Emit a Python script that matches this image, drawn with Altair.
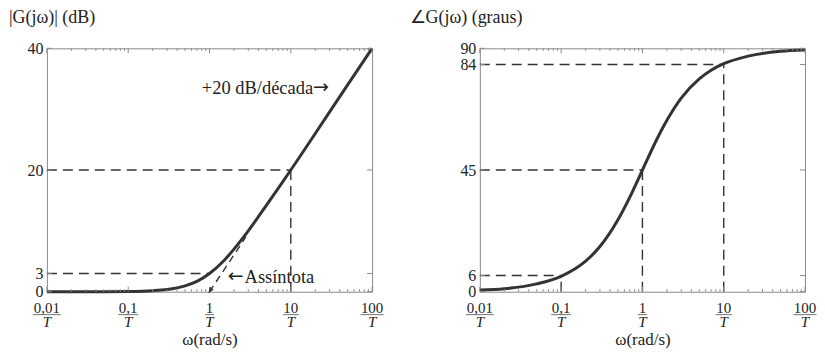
import altair as alt
import pandas as pd

# ---- data ----
w_mag = [0.01, 0.05, 0.1, 0.2, 0.3, 0.5, 0.7, 1, 1.5, 2, 3, 5, 7, 10, 20, 50, 100]
mag_db = [0.0, 0.01, 0.04, 0.17, 0.37, 0.97, 1.7, 3.0, 5.1, 7.0, 10.0, 14.2, 17.0, 20.0, 26.0, 34.0, 40.0]

w_ph = [0.01, 0.02, 0.05, 0.1, 0.2, 0.3, 0.5, 0.7, 1, 1.5, 2, 3, 5, 7, 10, 20, 50, 100]
phase_deg = [0.6, 1.1, 2.9, 5.7, 11.3, 16.7, 26.6, 35.0, 45.0, 56.3, 63.4, 71.6, 78.7, 81.9, 84.3, 87.1, 88.9, 89.4]

decade_vals = [0.01, 0.1, 1, 10, 100]
decade_nums = ["0,01", "0,1", "1", "10", "100"]
bar_len = [28, 20, 9, 16, 23]
minor_vals = [2e-2, 3e-2, 4e-2, 5e-2, 6e-2, 7e-2, 8e-2, 9e-2,
              0.2, 0.3, 0.4, 0.5, 0.6, 0.7, 0.8, 0.9,
              2, 3, 4, 5, 6, 7, 8, 9,
              20, 30, 40, 50, 60, 70, 80, 90]

mag_ticks = [0, 3, 20, 40]
ph_ticks = [0, 6, 45, 84, 90]

# reference dashed lines
mag_h = {"w0": [0.01, 0.01], "w1": [1, 10], "v": [3, 20]}
mag_v = {"w": [10], "v0": [0], "v1": [20]}
asym = {"w": [1], "w2": [2.8], "v": [0], "v2": [9.0]}
ph_h = {"w0": [0.01, 0.01, 0.01], "w1": [0.1, 1, 10], "v": [6, 45, 84]}
ph_v = {"w": [0.1, 1, 10], "v0": [0, 0, 0], "v1": [6, 45, 84]}

# annotations
slope_txt = {"w": [18.8], "v": [32.5], "t": ["+20 dB/década"]}
asym_txt = {"w": [2.7], "v": [1.45], "t": ["Assíntota"]}

FONT = "Liberation Serif"
W, H = 326, 244
DARK = "#333333"
FRAME = "#8a8a8a"
TXT = "#222222"


def panel(cw, cv, yticks, ydom, title, title_x, hd, vd, extra=None):
    xs = alt.Scale(type="log", domain=[0.01, 100])
    ys = alt.Scale(domain=ydom, nice=False, zero=False)
    xax = alt.Axis(labels=False, ticks=False, domain=False, grid=False,
                   title="ω(rad/s)", titleFont=FONT, titleFontSize=17,
                   titleFontWeight="normal", titleColor=TXT, titleY=48,
                   titleBaseline="middle")
    yax = alt.Axis(values=yticks, labels=True, ticks=False, domain=False, grid=False,
                   labelOverlap=False, labelBound=False,
                   labelFont=FONT, labelFontSize=16, labelColor=TXT, labelPadding=4,
                   title=title, titleFont=FONT, titleFontSize=18, titleFontWeight="normal",
                   titleColor=TXT, titleAngle=0, titleAlign="left", titleX=title_x,
                   titleY=-30.5, titleBaseline="middle")
    X = lambda f: alt.X(f, type="quantitative", scale=xs, axis=xax)
    Y = lambda f: alt.Y(f, type="quantitative", scale=ys, axis=yax)

    curve = alt.Chart(pd.DataFrame({"w": cw, "v": cv})).mark_line(
        color=DARK, strokeWidth=3, interpolate="monotone").encode(
        x=X("w"), y=Y("v"))

    dash = dict(color=DARK, strokeWidth=1.4, strokeDash=[10, 6])
    hl = alt.Chart(pd.DataFrame(hd)).mark_rule(**dash).encode(
        x=X("w0"), x2="w1", y=Y("v"))
    vl = alt.Chart(pd.DataFrame(vd)).mark_rule(**dash).encode(
        x=X("w"), y=Y("v0"), y2="v1")

    dec = pd.DataFrame({"w": decade_vals, "num": decade_nums, "len": bar_len})
    mino = pd.DataFrame({"w": minor_vals})
    tk = dict(color=FRAME, strokeWidth=1)
    maj_b = alt.Chart(dec).mark_rule(**tk).encode(x=X("w"), y=alt.value(H), y2=alt.value(H - 5))
    maj_t = alt.Chart(dec).mark_rule(**tk).encode(x=X("w"), y=alt.value(0), y2=alt.value(5))
    min_b = alt.Chart(mino).mark_rule(**tk).encode(x=X("w"), y=alt.value(H), y2=alt.value(H - 2.5))
    min_t = alt.Chart(mino).mark_rule(**tk).encode(x=X("w"), y=alt.value(0), y2=alt.value(2.5))
    yt = pd.DataFrame({"v": yticks})
    yl = alt.Chart(yt).mark_rule(**tk).encode(y=Y("v"), x=alt.value(0), x2=alt.value(5))
    yr = alt.Chart(yt).mark_rule(**tk).encode(y=Y("v"), x=alt.value(W), x2=alt.value(W - 5))

    num = alt.Chart(dec).mark_text(font=FONT, fontSize=15, color=TXT, baseline="middle").encode(
        x=X("w"), y=alt.value(H + 16), text="num")
    bar = alt.Chart(dec).mark_tick(orient="horizontal", thickness=0.9, color=TXT).encode(
        x=X("w"), y=alt.value(H + 23), size=alt.Size("len:Q", scale=None, legend=None))
    den = alt.Chart(dec).mark_text(font=FONT, fontSize=15, fontStyle="italic", color=TXT,
                                   baseline="middle", text="T").encode(
        x=X("w"), y=alt.value(H + 30.5))

    layers = [curve, hl, vl, maj_b, maj_t, min_b, min_t, yl, yr, num, bar, den]
    if extra:
        layers += extra(X, Y)
    return alt.layer(*layers).properties(width=W, height=H)


def mag_extra(X, Y):
    dash = dict(color=DARK, strokeWidth=1.4, strokeDash=[7, 5])
    a = alt.Chart(pd.DataFrame(asym)).mark_rule(**dash).encode(
        x=X("w"), x2="w2", y=Y("v"), y2="v2")
    head = alt.Chart(pd.DataFrame({"w": [1], "v": [0]})).mark_point(
        shape="M-0.55,-1.6L0,0L0.55,-1.6", filled=False, color=DARK, strokeWidth=1.4,
        size=30, angle=34, opacity=1).encode(x=X("w"), y=Y("v"))
    sd = pd.DataFrame(slope_txt)
    t1 = alt.Chart(sd).mark_text(
        font=FONT, fontSize=18.5, color=TXT, align="right", baseline="alphabetic").encode(
        x=X("w"), y=Y("v"), text="t")
    a1 = alt.Chart(sd).mark_text(
        font="DejaVu Sans", fontSize=19, color=TXT, align="left", baseline="alphabetic",
        text="→", dy=-1).encode(x=X("w"), y=Y("v"))
    ad = pd.DataFrame(asym_txt)
    t2 = alt.Chart(ad).mark_text(
        font=FONT, fontSize=18.5, color=TXT, align="left", baseline="alphabetic").encode(
        x=X("w"), y=Y("v"), text="t")
    a2 = alt.Chart(ad).mark_text(
        font="DejaVu Sans", fontSize=19, color=TXT, align="right", baseline="alphabetic",
        text="←", dx=-1, dy=-1).encode(x=X("w"), y=Y("v"))
    return [a, head, t1, a1, t2, a2]


left = panel(w_mag, mag_db, mag_ticks, [0, 40], "|G(jω)|  (dB)", -38.5, mag_h, mag_v, mag_extra)
right = panel(w_ph, phase_deg, ph_ticks, [0, 90], "∠G(jω)  (graus)", -71, ph_h, ph_v)

chart = alt.hconcat(left, right, spacing=24).properties(
    padding={"left": 0, "top": 0, "right": 0, "bottom": 0},
    background="white",
).configure_view(stroke=FRAME, strokeWidth=1)

chart.save("out.html", embed_options={"renderer": "svg", "actions": False})
